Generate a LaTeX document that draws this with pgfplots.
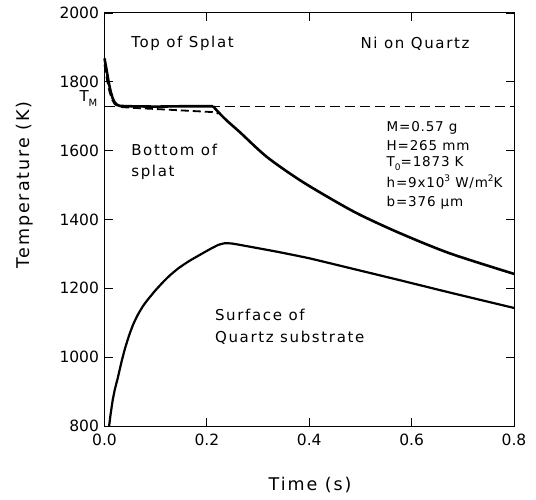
\documentclass[border=0pt]{standalone}
\usepackage{pgfplots}
\pgfplotsset{compat=1.18}
\usepackage{fontspec}
\setmainfont{DejaVu Sans}
\newfontfamily\spaced[LetterSpace=11]{DejaVu Sans}
\newfontfamily\pspaced[LetterSpace=6]{DejaVu Sans}
\begin{document}
\begin{tikzpicture}
\begin{axis}[
  scale only axis, width=409.5pt, height=413pt,
  xmin=0, xmax=0.8, ymin=800, ymax=2000,
  xtick={0,0.2,0.4,0.6,0.8}, ytick={800,1000,1200,1400,1600,1800,2000},
  xticklabel style={/pgf/number format/.cd, fixed, fixed zerofill, precision=1},
  yticklabel style={/pgf/number format/1000 sep={}},
  /pgf/number format/assume math mode=true,
  scaled ticks=false,
  tick align=inside, major tick length=8pt,
  tick style={line width=0.8pt, black},
  tick label style={font=\fontsize{15.5}{18}\selectfont},
  xticklabel shift=4pt, yticklabel shift=2pt,
  axis line style={line width=1pt},
  xlabel={\spaced\fontsize{17.5}{20}\selectfont Time (s)},
  ylabel={\spaced\fontsize{17.5}{20}\selectfont Temperature (K)},
  xlabel style={at={(axis description cs:0.502,-0.143)}, anchor=center},
  ylabel style={at={(axis description cs:-0.194,0.584)}, anchor=center},
  clip=false,
]
% melting temperature
\addplot[black, line width=1pt, dash pattern=on 10pt off 5pt] coordinates {(0,1728) (0.8,1728)};
% top of splat
\addplot[black, line width=2.6pt, line join=round] coordinates {
 (0,1868) (0.004,1835) (0.008,1800) (0.012,1772) (0.016,1752) (0.02,1740) (0.025,1733) (0.03,1730)
 (0.05,1729) (0.1,1728) (0.15,1729) (0.212,1729)
};
\addplot[black, line width=2.6pt, smooth, tension=0.5] coordinates {
 (0.212,1729) (0.225,1708) (0.24,1686) (0.265,1653) (0.317,1582) (0.381,1515) (0.446,1457)
 (0.5,1413) (0.576,1361) (0.674,1302) (0.8,1242)
};
% bottom of splat
\addplot[black, line width=1.8pt, dash pattern=on 8pt off 4pt] coordinates {
 (0,1850) (0.005,1805) (0.01,1770) (0.015,1748) (0.02,1735) (0.03,1727) (0.06,1724)
 (0.1,1721) (0.15,1717) (0.2,1713) (0.212,1712) (0.222,1708)
};
% surface of quartz substrate
\addplot[black, line width=2.2pt, smooth, tension=0.3] coordinates {
 (0.009,800) (0.012,835) (0.016,875) (0.020,905) (0.026,940) (0.033,985) (0.040,1025)
 (0.048,1063) (0.056,1095) (0.065,1123) (0.075,1148) (0.085,1168) (0.100,1195)
 (0.115,1219) (0.128,1238) (0.145,1259) (0.165,1279) (0.186,1297) (0.205,1313)
 (0.222,1326) (0.235,1331) (0.25,1330) (0.284,1321) (0.342,1305)
 (0.401,1287) (0.479,1259) (0.576,1224) (0.674,1188) (0.8,1143)
};
% annotations
\node[anchor=west, inner sep=0pt, font=\spaced\fontsize{15}{18}\selectfont] at (axis cs:0.052,1912) {Top of Splat};
\node[anchor=west, inner sep=0pt, font=\spaced\fontsize{15}{18}\selectfont] at (axis cs:0.500,1912) {Ni on Quartz};
\node[anchor=west, inner sep=0pt, font=\spaced\fontsize{15}{18}\selectfont] at (axis cs:0.052,1603) {Bottom of};
\node[anchor=west, inner sep=0pt, font=\spaced\fontsize{15}{18}\selectfont] at (axis cs:0.052,1536) {splat};
\node[anchor=west, inner sep=0pt, font=\spaced\fontsize{15}{18}\selectfont] at (axis cs:0.2156,1124) {Surface of};
\node[anchor=west, inner sep=0pt, font=\spaced\fontsize{15}{18}\selectfont] at (axis cs:0.2156,1057) {Quartz substrate};
\node[anchor=base east, inner sep=0pt, font=\fontsize{15}{18}\selectfont] at ([shift={(-7pt,5pt)}]axis cs:0,1728) {T\raisebox{-5pt}{\fontsize{10}{10}\selectfont M}};
% parameters
\node[anchor=west, inner sep=0pt, font=\pspaced\fontsize{13.5}{16}\selectfont] at (axis cs:0.551,1667) {M=0.57 g};
\node[anchor=west, inner sep=0pt, font=\pspaced\fontsize{13.5}{16}\selectfont] at (axis cs:0.551,1615) {H=265 mm};
\node[anchor=west, inner sep=0pt, font=\pspaced\fontsize{13.5}{16}\selectfont] at (axis cs:0.551,1562) {T\raisebox{-4pt}{\fontsize{9}{9}\selectfont 0}=1873 K};
\node[anchor=west, inner sep=0pt, font=\pspaced\fontsize{13.5}{16}\selectfont] at (axis cs:0.551,1509) {h=9x10\raisebox{6pt}{\fontsize{9}{9}\selectfont 3} W/m\raisebox{6pt}{\fontsize{9}{9}\selectfont 2}K};
\node[anchor=west, inner sep=0pt, font=\pspaced\fontsize{13.5}{16}\selectfont] at (axis cs:0.551,1448) {b=376 \textmu m};
\end{axis}
\path ([shift={(-104.5pt,-73pt)}]current axis.south west) rectangle ([shift={(22pt,13pt)}]current axis.north east);
\end{tikzpicture}
\end{document}
